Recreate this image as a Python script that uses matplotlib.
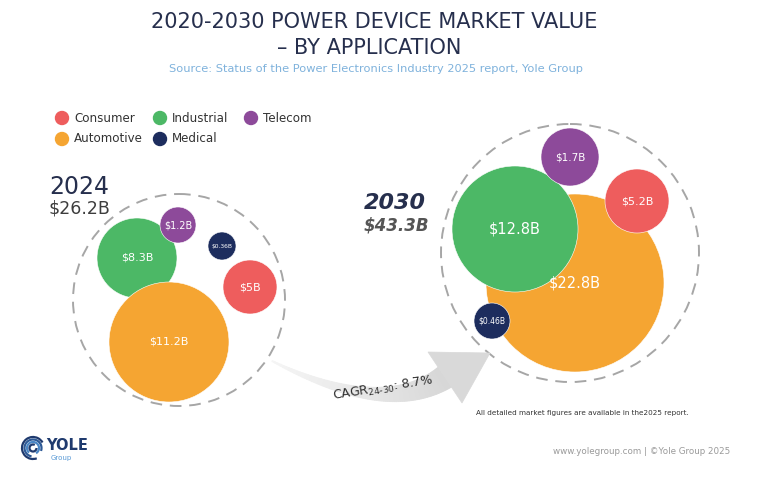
import numpy as np
import matplotlib
matplotlib.use("agg")
import matplotlib.pyplot as plt
from matplotlib.patches import Circle, Polygon, Arc

plt.rcParams["font.family"] = ["DejaVu Sans"]
plt.rcParams["mathtext.default"] = "regular"

# data
segments = ["Consumer", "Industrial", "Telecom", "Automotive", "Medical"]
colors = ["#ee5d5d", "#4cb866", "#8d4a9a", "#f5a532", "#1d2d5e"]
values_2024 = [5.0, 8.3, 1.2, 11.2, 0.36]
values_2030 = [5.2, 12.8, 1.7, 22.8, 0.46]
labels_2024 = ["$5B", "$8.3B", "$1.2B", "$11.2B", "$0.36B"]
labels_2030 = ["$5.2B", "$12.8B", "$1.7B", "$22.8B", "$0.46B"]
total_2024 = "$26.2B"
total_2030 = "$43.3B"
cagr = "8.7%"

# layout (pixels): centre x, centre y, radius, label size
lay_2024 = [(250, 287, 27, 8), (137, 258, 40, 8), (178, 225, 18, 7),
            (169, 342, 60, 8), (222, 246, 14, 4.3)]
lay_2030 = [(637, 201, 32, 8), (515, 229, 63, 10.5), (570, 157, 29, 7.5),
            (575, 283, 89, 10.5), (492, 321, 18, 5.5)]
order_2024 = [1, 3, 0, 2, 4]
order_2030 = [3, 1, 0, 2, 4]

NAVY = "#262f4d"

fig = plt.figure(figsize=(7.58, 4.78), dpi=100)
ax = fig.add_axes([0, 0, 1, 1])
ax.set_xlim(0, 758)
ax.set_ylim(478, 0)
ax.axis("off")

# titles
ax.text(374, 22, "2020-2030 POWER DEVICE MARKET VALUE", ha="center", va="center",
        fontsize=15, color=NAVY)
ax.text(369, 48, "– BY APPLICATION", ha="center", va="center", fontsize=15, color=NAVY)
ax.text(376, 69, "Source: Status of the Power Electronics Industry 2025 report, Yole Group",
        ha="center", va="center", fontsize=8.2, color="#7fb2dc")

# legend
leg_pos = [(62, 118), (160, 118), (251, 118), (62, 139), (160, 139)]
for name, c, (lx, ly) in zip(segments, colors, leg_pos):
    ax.add_patch(Circle((lx, ly), 6.5, color=c))
    ax.text(lx + 12, ly, name, ha="left", va="center", fontsize=8.6, color="#333333")

# dashed outline circles
ax.add_patch(Circle((179, 300), 106, fill=False, ec="#a6a6a6", lw=1.4, ls=(0, (6, 4))))
ax.add_patch(Circle((570, 253), 129, fill=False, ec="#a6a6a6", lw=1.4, ls=(0, (6, 4))))

# curved arrow with light grey gradient
p0, p1, p2 = np.array([272, 361]), np.array([385, 418]), np.array([445, 377])
s = np.linspace(0, 1, 80)
cl = ((1 - s) ** 2)[:, None] * p0 + (2 * (1 - s) * s)[:, None] * p1 + (s ** 2)[:, None] * p2
tan = 2 * (1 - s)[:, None] * (p1 - p0) + 2 * s[:, None] * (p2 - p1)
nrm = np.stack([-tan[:, 1], tan[:, 0]], axis=1)
nrm /= np.linalg.norm(nrm, axis=1)[:, None]
hw = 0.5 + 11.5 * s
top = cl + nrm * hw[:, None]
bot = cl - nrm * hw[:, None]
for i in range(len(s) - 1):
    g = 0.96 - 0.12 * s[i]
    quad = [top[i], top[i + 1], bot[i + 1], bot[i]]
    ax.add_patch(Polygon(quad, closed=True, fc=(g, g, g), ec=(g, g, g), lw=0.6))
ax.add_patch(Polygon([(428, 352), (490, 353), (462, 403)], closed=True,
                     fc="#d9d9d9", ec="#d9d9d9", lw=0.5))
ax.text(383, 389, "CAGR$_{24\u201030}$: " + cagr, ha="center", va="center",
        fontsize=9, color="#2e2e2e", rotation=9, rotation_mode="anchor")

# bubbles
def draw_bubbles(values, labels, lay, order):
    for i in order:
        x, y, r, fs = lay[i]
        ax.add_patch(Circle((x, y), r, fc=colors[i], ec="white", lw=0.4))
        ax.text(x, y, labels[i], ha="center", va="center", fontsize=fs, color="white")

draw_bubbles(values_2024, labels_2024, lay_2024, order_2024)
draw_bubbles(values_2030, labels_2030, lay_2030, order_2030)

# year labels
ax.text(49, 187, "2024", ha="left", va="center", fontsize=17, color=NAVY)
ax.text(49, 209, total_2024, ha="left", va="center", fontsize=12.5, color="#3d3d3d")
ax.text(364, 203, "2030", ha="left", va="center", fontsize=16, color=NAVY,
        style="italic", weight="bold")
ax.text(364, 225, total_2030, ha="left", va="center", fontsize=12, color="#555555",
        style="italic", weight="bold")

# footer
ax.text(582, 413, "All detailed market figures are available in the2025 report.",
        ha="center", va="center", fontsize=5.2, color="#333333")
ax.text(730, 451, "www.yolegroup.com | \u00a9Yole Group 2025", ha="right", va="center",
        fontsize=6.3, color="#9a9a9a")

# logo: concentric swirl arcs
for rr, a1, a2, c in [(11, 70, 330, "#1f3a6e"), (8.5, 100, 20, "#2e5a96"),
                      (6, 130, 60, "#4a86c5"), (3.5, 0, 300, "#1f3a6e")]:
    ax.add_patch(Arc((33, 448), 2 * rr, 2 * rr, theta1=a1, theta2=a2, lw=1.6, color=c))
ax.text(46, 445, "YOLE", ha="left", va="center", fontsize=10.5, weight="bold", color="#1f3a6e")
ax.text(51, 458, "Group", ha="left", va="center", fontsize=5, color="#5a9ad6")

fig.savefig("out.png", dpi=100, facecolor="white")
